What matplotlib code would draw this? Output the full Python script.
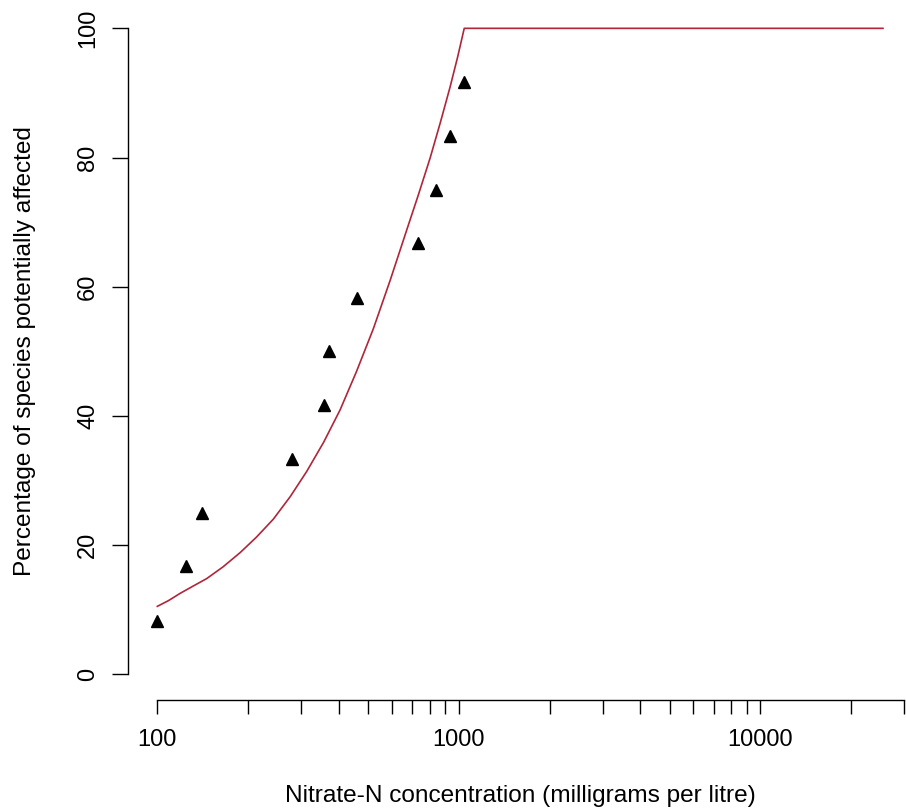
import numpy as np
import matplotlib
matplotlib.use("Agg")
from matplotlib import pyplot as plt

plt.rcParams['font.family'] = ['Liberation Sans', 'DejaVu Sans']

# observed species sensitivity points (concentration, cumulative %)
conc = [100, 124.5, 140.4, 279, 358, 371, 458, 734, 838, 935, 1043]
pct = [8.3, 16.7, 25.0, 33.3, 41.7, 50.0, 58.3, 66.7, 75.0, 83.3, 91.7]

# fitted curve, capped at 100%
fit_conc = [100, 109, 118.9, 131, 145.8, 165, 188, 213, 242.5, 276, 313, 356, 403.6,
            458, 520.6, 592, 671.9, 735, 802.7, 868, 935, 990, 1042, 25500]
fit_pct = [10.5, 11.4, 12.5, 13.6, 14.8, 16.6, 18.8, 21.2, 24.0, 27.5, 31.4, 35.9, 40.9,
           46.9, 53.5, 61.0, 68.8, 74.3, 79.9, 85.4, 90.9, 95.5, 100, 100]

xticks = [100, 200, 300, 400, 500, 600, 700, 800, 900,
          1000, 2000, 3000, 4000, 5000, 6000, 7000, 8000, 9000,
          10000, 20000, 30000]
xticklabels = ['100', '', '', '', '', '', '', '', '',
               '1000', '', '', '', '', '', '', '', '',
               '10000', '', '']
yticks = [0, 20, 40, 60, 80, 100]

W, H = 906, 811
fig = plt.figure(figsize=(W / 100, H / 100), dpi=100)
# plot region in pixels: left 128.3, right 912 (runs past the edge), top 2.5, bottom 700
ax = fig.add_axes([128.3 / W, (H - 700) / H, (912 - 128.3) / W, (700 - 2.5) / H])

ax.plot(fit_conc, fit_pct, color='#B0253A', lw=1.2, zorder=2)
ax.plot(conc, pct, linestyle='none', marker='^', color='black', markersize=8.5, zorder=3)

ax.set_xscale('log')
lo, hi = np.log10(min(fit_conc)), np.log10(max(fit_conc))
pad = 0.04 * (hi - lo)
ax.set_xlim(10 ** (lo - pad), 10 ** (hi + pad))
ax.set_ylim(-4, 104)

ax.set_xticks(xticks)
ax.set_xticklabels(xticklabels)
ax.xaxis.set_minor_locator(matplotlib.ticker.NullLocator())
ax.set_yticks(yticks)
ax.set_yticklabels([str(v) for v in yticks], rotation=90, va='center')

for side in ['top', 'right']:
    ax.spines[side].set_visible(False)
ax.spines['bottom'].set_bounds(xticks[0], xticks[-1])
ax.spines['left'].set_bounds(yticks[0], yticks[-1])
for side in ['bottom', 'left']:
    ax.spines[side].set_linewidth(1.0)

ax.tick_params(axis='x', length=10, width=1.0, pad=11, labelsize=17)
ax.tick_params(axis='y', length=11.5, width=1.0, pad=9.5, labelsize=17)

ax.set_xlabel('Nitrate-N concentration (milligrams per litre)', fontsize=17.6)
ax.xaxis.label.set_va('center')
ax.xaxis.set_label_coords(0.5, (700 - 796) / 697.5)
ax.set_ylabel('Percentage of species potentially affected', fontsize=17.6)
ax.yaxis.label.set_va('center')
ax.yaxis.set_label_coords((25 - 128.3) / 783.7, 0.5)

fig.savefig('out.png', dpi=100)
